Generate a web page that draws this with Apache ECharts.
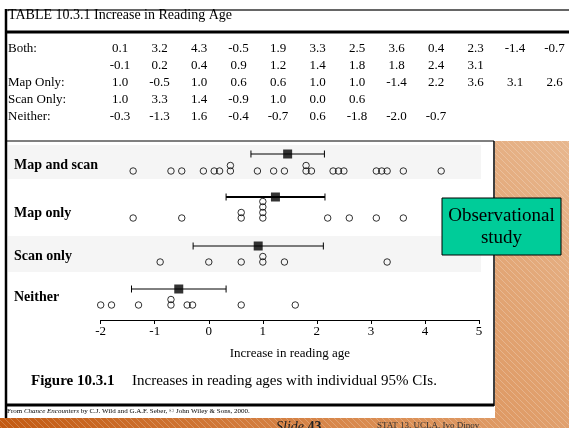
<!DOCTYPE html>
<html><head><meta charset="utf-8">
<script src="https://cdn.jsdelivr.net/npm/echarts@6/dist/echarts.min.js"></script>
<style>html,body{margin:0;padding:0;background:#fff}#c{width:569px;height:428px}</style>
</head><body><div id="c"></div>
<script>
// ---------- DATA ----------
const groups = ['Map and scan', 'Map only', 'Scan only', 'Neither'];
const tableLabels = ['Both:', 'Map Only:', 'Scan Only:', 'Neither:'];
const bothValues = [0.1, 3.2, 4.3, -0.5, 1.9, 3.3, 2.5, 3.6, 0.4, 2.3, -1.4, -0.7, -0.1, 0.2, 0.4, 0.9, 1.2, 1.4, 1.8, 1.8, 2.4, 3.1];
const mapOnlyValues = [1.0, -0.5, 1.0, 0.6, 0.6, 1.0, 1.0, -1.4, 2.2, 3.6, 3.1, 2.6];
const scanOnlyValues = [1.0, 3.3, 1.4, -0.9, 1.0, 0.0, 0.6];
const neitherValues = [-0.3, -1.3, 1.6, -0.4, -0.7, 0.6, -1.8, -2.0, -0.7];
const ciLow = [0.78, 0.32, -0.29, -1.43];
const ciHigh = [2.14, 2.15, 2.12, 0.32];
const xTickMin = -2, xTickMax = 5, xTickStep = 1;
const tableTitle = 'TABLE 10.3.1 Increase in Reading Age';
const axisTitle = 'Increase in reading age';
const captionBold = 'Figure 10.3.1';
const captionText = 'Increases in reading ages with individual 95% CIs.';
const sideNote = 'Observational\nstudy';

// ---------- LAYOUT ----------
const W = 569, H = 428;
const FONT = '"Liberation Serif", "Times New Roman", serif';
const gridLeft = 100.7, gridRightX = 479, gridTop = 141, axisY = 320;
const rowBase = [171, 218, 262, 305];
const ciY = [154, 197, 246, 289];
const labelY = [165, 213, 256, 297];
const ciWidth = [1, 2, 1, 1];
const stackStep = 5.5;
const tableRowY0 = 49, tableRowStep = 17, tableColX0 = 120, tableColStep = 39.5, perLine = 12;

const allGroups = [bothValues, mapOnlyValues, scanOnlyValues, neitherValues];

// circles, stacked for repeated values
const circleData = [];
allGroups.forEach((vals, gi) => {
  const seen = {};
  vals.forEach(v => {
    const key = v.toFixed(1);
    const k = seen[key] || 0;
    seen[key] = k + 1;
    circleData.push([v, rowBase[gi] - k * stackStep - gridTop]);
  });
});
const meanData = allGroups.map((vals, gi) => [vals.reduce((a, b) => a + b, 0) / vals.length, ciY[gi] - gridTop]);
const ciData = groups.map((g, gi) => [ciLow[gi], ciHigh[gi], ciY[gi] - gridTop, ciWidth[gi]]);

// hatch pattern
function makePattern() {
  const c = document.createElement('canvas');
  c.width = 6; c.height = 6;
  const ctx = c.getContext('2d');
  ctx.strokeStyle = 'rgba(255,255,255,0.22)';
  ctx.lineWidth = 1;
  ctx.beginPath();
  ctx.moveTo(-1, -1); ctx.lineTo(7, 7);
  ctx.moveTo(-1, 5); ctx.lineTo(1, 7);
  ctx.moveTo(5, -1); ctx.lineTo(7, 1);
  ctx.stroke();
  return c;
}

const graphics = [];
// orange slide background
graphics.push({ type: 'rect', z: -20, shape: { x: 0, y: 0, width: W, height: H },
  style: { fill: new echarts.graphic.LinearGradient(0, 1, 1, 0, [
    { offset: 0, color: '#C35A12' }, { offset: 0.45, color: '#DB8F55' }, { offset: 1, color: '#EBC29E' }]) } });
graphics.push({ type: 'rect', z: -19, shape: { x: 0, y: 0, width: W, height: H },
  style: { fill: { image: makePattern(), repeat: 'repeat' } } });
// white page
graphics.push({ type: 'polygon', z: -18, shape: { points: [[0, 0], [W, 0], [W, 141], [495, 141], [495, 418], [0, 418]] },
  style: { fill: '#fff' } });
// gray bands
[[145, 179], [236, 272]].forEach(b => graphics.push({ type: 'rect', z: -17,
  shape: { x: 8, y: b[0], width: 473, height: b[1] - b[0] }, style: { fill: '#F5F5F5' } }));
// frame lines
const ln = (x1, y1, x2, y2, w, c) => graphics.push({ type: 'line', z: 5, shape: { x1, y1, x2, y2 }, style: { stroke: c || '#000', lineWidth: w } });
ln(5, 10, W, 10, 1.5, '#333');
ln(5, 32, W, 32, 3);
ln(6, 9, 6, 418, 2.5);
ln(5, 141, 494, 141, 1);
ln(494, 141, 494, 406, 1.5);
ln(5, 405, 494, 405, 3);

const txt = (x, y, text, size, extra) => graphics.push(Object.assign({ type: 'text', z: 10, x, y,
  style: Object.assign({ text, fontFamily: FONT, fontSize: size, fill: '#000', verticalAlign: 'middle' }, extra || {}) }));

// table
txt(8, 15, tableTitle, 14);
let line = 0;
allGroups.forEach((vals, gi) => {
  txt(8, tableRowY0 + line * tableRowStep, tableLabels[gi], 13);
  vals.forEach((v, i) => {
    const l = line + Math.floor(i / perLine);
    txt(tableColX0 + (i % perLine) * tableColStep, tableRowY0 + l * tableRowStep, v.toFixed(1), 13, { align: 'center' });
  });
  line += Math.ceil(vals.length / perLine);
});
// row labels
groups.forEach((g, gi) => txt(14, labelY[gi], g, 14, { fontWeight: 'bold' }));
// caption
txt(31, 381, captionBold, 15, { fontWeight: 'bold' });
txt(132, 381, captionText, 15);
// citation
graphics.push({ type: 'text', z: 10, x: 7, y: 411, style: {
  text: '{n|From }{i|Chance Encounters}{n| by C.J. Wild and G.A.F. Seber, \u00A9 John Wiley & Sons, 2000.}',
  verticalAlign: 'middle',
  rich: { n: { fontFamily: FONT, fontSize: 7, fill: '#000' }, i: { fontFamily: FONT, fontSize: 7, fontStyle: 'italic', fill: '#000' } } } });
// footer
graphics.push({ type: 'text', z: 10, x: 276, y: 420, style: {
  text: '{i|Slide }{b|43}', verticalAlign: 'top',
  rich: { i: { fontFamily: FONT, fontSize: 14, fontStyle: 'italic', fill: '#222' }, b: { fontFamily: FONT, fontSize: 14, fontWeight: 'bold', fill: '#222' } } } });
txt(377, 426, 'STAT 13, UCLA, Ivo Dinov', 9, { fill: '#333' });
// observational box
graphics.push({ type: 'rect', z: 12, shape: { x: 442, y: 198, width: 119, height: 57 },
  style: { fill: '#00CC99', stroke: '#000', lineWidth: 1 } });
graphics.push({ type: 'text', z: 13, x: 501.5, y: 227, style: { text: sideNote, fontFamily: FONT, fontSize: 19,
  lineHeight: 22, fill: '#000', align: 'center', verticalAlign: 'middle' } });

const chart = echarts.init(document.getElementById('c'), null, { renderer: 'canvas' });
chart.setOption({
  animation: false,
  backgroundColor: 'transparent',
  grid: { left: gridLeft, width: gridRightX - gridLeft, top: gridTop, height: axisY - gridTop },
  xAxis: {
    type: 'value', min: xTickMin, max: xTickMax, interval: xTickStep, position: 'bottom',
    axisLine: { show: true, onZero: false, lineStyle: { color: '#000', width: 1 } },
    axisTick: { show: true, length: 4, lineStyle: { color: '#000' } },
    axisLabel: { fontFamily: FONT, fontSize: 13, color: '#000', margin: 5 },
    splitLine: { show: false },
    name: axisTitle, nameLocation: 'middle', nameGap: 27,
    nameTextStyle: { fontFamily: FONT, fontSize: 13, color: '#000' }
  },
  yAxis: { type: 'value', min: 0, max: axisY - gridTop, inverse: true, show: false },
  graphic: { elements: graphics },
  series: [
    { type: 'scatter', data: circleData, symbol: 'circle', symbolSize: 6.5, silent: true,
      itemStyle: { color: 'rgba(0,0,0,0)', borderColor: '#000', borderWidth: 1 }, z: 3 },
    { type: 'custom', data: ciData, encode: { x: [0, 1], y: 2 }, z: 4, silent: true,
      renderItem: function (params, api) {
        const lo = api.coord([api.value(0), api.value(2)]);
        const hi = api.coord([api.value(1), api.value(2)]);
        const w = api.value(3), cap = 3.5;
        return { type: 'group', children: [
          { type: 'line', shape: { x1: lo[0], y1: lo[1], x2: hi[0], y2: hi[1] }, style: { stroke: '#000', lineWidth: w } },
          { type: 'line', shape: { x1: lo[0], y1: lo[1] - cap, x2: lo[0], y2: lo[1] + cap }, style: { stroke: '#000', lineWidth: 1 } },
          { type: 'line', shape: { x1: hi[0], y1: hi[1] - cap, x2: hi[0], y2: hi[1] + cap }, style: { stroke: '#000', lineWidth: 1 } }
        ] };
      } },
    { type: 'scatter', data: meanData, symbol: 'rect', symbolSize: 9, silent: true,
      itemStyle: { color: '#000' }, z: 5 }
  ]
});
</script></body></html>
